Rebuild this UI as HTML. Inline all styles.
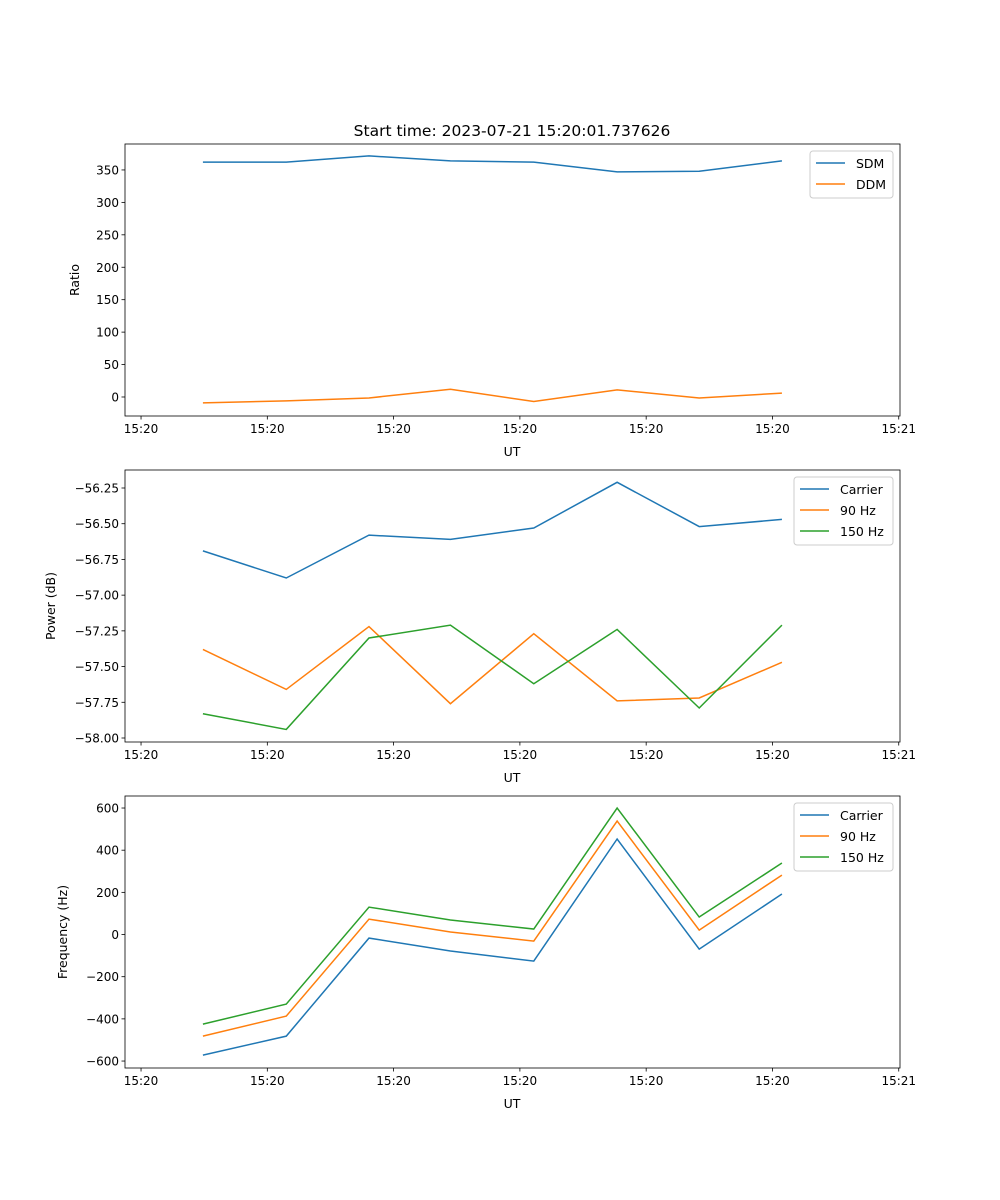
<!DOCTYPE html>
<html><head><meta charset="utf-8"><style>
body{margin:0;background:#fff;}
svg{display:block;font-family:"DejaVu Sans","Liberation Sans",sans-serif;}
</style></head><body>
<svg id="fig" width="1000" height="1200" xmlns="http://www.w3.org/2000/svg">
<rect width="1000" height="1200" fill="#fff"/>
<text x="512" y="136" font-size="15.5" text-anchor="middle">Start time: 2023-07-21 15:20:01.737626</text>
</svg>
<script>
const times=[4.9,11.5,18.05,24.5,31.1,37.7,44.2,50.75];
const xTickVals=[0,10,20,30,40,50,60];
const xTickLabels=["15:20","15:20","15:20","15:20","15:20","15:20","15:21"];
const sdm=[362,362,371.6,364,362,347,348,364];
const ddm=[-9,-6,-1.5,12,-7,11,-1.5,6];
const pCarrier=[-56.69,-56.88,-56.58,-56.61,-56.53,-56.21,-56.52,-56.47];
const p90=[-57.38,-57.66,-57.22,-57.76,-57.27,-57.74,-57.72,-57.47];
const p150=[-57.83,-57.94,-57.30,-57.21,-57.62,-57.24,-57.79,-57.21];
const fCarrier=[-572,-482,-17,-78,-126,453,-69,192];
const f90=[-482,-387,73,12,-31,538,21,282];
const f150=[-425,-330,130,69,26,600,83,339];
const yTicks1=[0,50,100,150,200,250,300,350];
const yTicks2=[-58.00,-57.75,-57.50,-57.25,-57.00,-56.75,-56.50,-56.25];
const yTicks3=[-600,-400,-200,0,200,400,600];
const NS="http://www.w3.org/2000/svg";
const svg=document.getElementById('fig');
function mk(tag,attrs,parent){const e=document.createElementNS(NS,tag);for(const k in attrs)e.setAttribute(k,attrs[k]);(parent||svg).appendChild(e);return e;}
const L=125,R=900,xMin=-1.27,xMax=60.1;
const xs=t=>L+(t-xMin)/(xMax-xMin)*(R-L);
function panel(id,top,bot,yMin,yMax,yTicks,fmt,ylabel,ylx,series,legend){
  const g=mk('g',{});
  
  
  const ys=v=>bot-(v-yMin)/(yMax-yMin)*(bot-top);
  series.forEach(s=>{
    const p=mk('polyline',{points:s.d.map((v,i)=>xs(times[i])+','+ys(v)).join(' '),fill:'none',stroke:s.c,'stroke-width':1.5},g);
    
    
  });
  const fr=mk('rect',{x:L,y:top,width:R-L,height:bot-top,fill:'none',stroke:'#000','stroke-width':0.8},g);
  
  
  xTickVals.forEach((t,i)=>{
    const x=xs(t);
    mk('line',{x1:x,x2:x,y1:bot,y2:bot+3.5,stroke:'#000','stroke-width':0.8},g);
    const tx=mk('text',{x:x,y:bot+17,'font-size':12,'text-anchor':'middle'},g);
    tx.textContent=xTickLabels[i];
    
    
  });
  yTicks.forEach(v=>{
    const y=ys(v);
    mk('line',{x1:L-3.5,x2:L,y1:y,y2:y,stroke:'#000','stroke-width':0.8},g);
    const tx=mk('text',{x:L-6,y:y+4.5,'font-size':12,'text-anchor':'end'},g);
    tx.textContent=fmt(v);
    
    
  });
  const xl=mk('text',{x:512,y:bot+40,'font-size':12.5,'text-anchor':'middle'},g);
  xl.textContent='UT';
  
  
  const cy=(top+bot)/2;
  const yl=mk('text',{x:ylx,y:cy,'font-size':12.5,'text-anchor':'middle',transform:'rotate(-90 '+ylx+' '+cy+')'},g);
  yl.textContent=ylabel;
  
  
  const lg=mk('g',{},g);
  
  
  mk('rect',{x:legend.x,y:top+7,width:legend.w,height:series.length*21+5,rx:3,fill:'#fff',stroke:'#ccc','stroke-width':1},lg);
  series.forEach((s,i)=>{
    const y=top+19+i*21;
    mk('line',{x1:legend.x+6,x2:legend.x+35,y1:y,y2:y,stroke:s.c,'stroke-width':1.5},lg);
    const t=mk('text',{x:legend.x+46,y:y+5,'font-size':12.5},lg);
    t.textContent=s.n;
    
    
  });
}
const B='#1f77b4',O='#ff7f0e',G='#2ca02c';
panel('ratio',144,416,-29.3,390,yTicks1,v=>String(v),'Ratio',79,[{n:'SDM',d:sdm,c:B},{n:'DDM',d:ddm,c:O}],{x:810,w:83});
panel('power',470,742,-58.028,-56.124,yTicks2,v=>v.toFixed(2).replace('-','\u2212'),'Power (dB)',55,[{n:'Carrier',d:pCarrier,c:B},{n:'90 Hz',d:p90,c:O},{n:'150 Hz',d:p150,c:G}],{x:794,w:99});
panel('freq',796,1068,-633,657,yTicks3,v=>String(v).replace('-','\u2212'),'Frequency (Hz)',67,[{n:'Carrier',d:fCarrier,c:B},{n:'90 Hz',d:f90,c:O},{n:'150 Hz',d:f150,c:G}],{x:794,w:99});
</script>
</body></html>
